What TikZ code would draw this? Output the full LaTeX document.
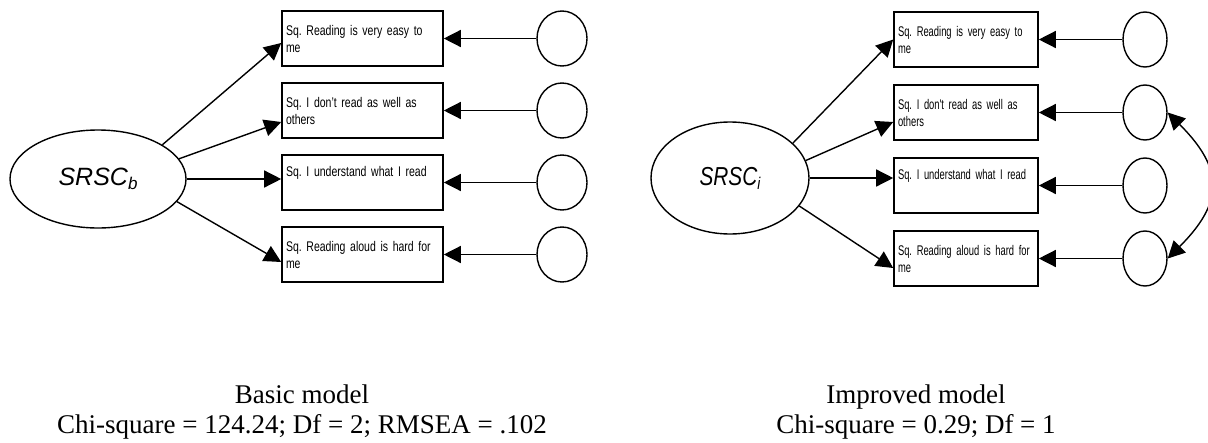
\documentclass[tikz,border=0pt]{standalone}
\usepackage{fontspec}
\setmainfont{Liberation Serif}
\setsansfont{Liberation Sans}
\newfontfamily\widesf[FakeStretch=0.75]{Liberation Sans}
\newfontfamily\narrowsf[FakeStretch=0.67]{Liberation Sans}
\newfontfamily\latentsf[FakeStretch=0.8]{Liberation Sans}
\usetikzlibrary{arrows.meta,shapes.geometric}
\frenchspacing

\begin{document}
\begin{tikzpicture}[x=1pt,y=-1pt,>={Triangle[length=17pt,width=17pt]},
  indic/.style={draw,line width=1.6pt,minimum height=55pt,inner xsep=4pt,inner ysep=0pt,align=left},
  latent/.style={draw,ellipse,line width=1.4pt,inner sep=0pt},
  err/.style={draw,ellipse,line width=1.4pt,inner sep=0pt,minimum height=55pt},
  link/.style={line width=1.4pt,->},
  caption/.style={align=center,font=\rmfamily\fontsize{27}{30}\selectfont}]
  \useasboundingbox (0,0) rectangle (1208,442);

  % basic model
  \node[latent,minimum width=176pt,minimum height=98pt] (lsrsc) at (98,179)
    {\sffamily\itshape\fontsize{25}{30}\selectfont SRSC\raisebox{-4pt}{\fontsize{17}{20}\selectfont b}};
  \begin{scope}[every node/.append style={indic,text width=153pt,font=\widesf\fontsize{14}{17}\selectfont}]
    \node (lb1) at (362.5,38.5) {Sq. Reading is very easy to\\me};
    \node (lb2) at (362.5,110.5) {Sq. I don’t read as well as\\others};
    \node (lb3) at (362.5,182.5) {Sq. I understand what I read\\\strut};
    \node (lb4) at (362.5,254.5) {Sq. Reading aloud is hard for\\me};
  \end{scope}
  \node[err,minimum width=50pt] (lc1) at (562,38.5) {};
  \node[err,minimum width=50pt] (lc2) at (562,110.5) {};
  \node[err,minimum width=50pt] (lc3) at (562,182.5) {};
  \node[err,minimum width=50pt] (lc4) at (562,254.5) {};
  \draw[link] (lsrsc.28) -- ([yshift=-4.5pt]lb1.west);
  \draw[link] (lsrsc.14) -- ([yshift=-11.5pt]lb2.west);
  \draw[link] (lsrsc.east) -- (lsrsc.east -| lb3.west);
  \draw[link] (lsrsc.-16) -- ([yshift=-7.5pt]lb4.west);
  \draw[link] (lc1) -- (lb1);
  \draw[link] (lc2) -- (lb2);
  \draw[link] (lc3) -- (lb3);
  \draw[link] (lc4) -- (lb4);
  \node[caption] (lcap) at (302,412) {Basic model\\Chi-square = 124.24; Df = 2; RMSEA = .102};

  % improved model
  \node[latent,minimum width=158pt,minimum height=112pt] (rsrsc) at (730,178)
    {\latentsf\itshape\fontsize{26}{30}\selectfont SRSC\raisebox{-4pt}{\fontsize{17}{20}\selectfont i}};
  \begin{scope}[every node/.append style={indic,text width=136pt,font=\narrowsf\fontsize{14}{17}\selectfont}]
    \node (rb1) at (966,39.5) {Sq. Reading is very easy to\\me};
    \node (rb2) at (966,112.5) {Sq. I don't read as well as\\others};
    \node (rb3) at (966,185.5) {Sq. I understand what I read\\\strut};
    \node (rb4) at (966,258.5) {Sq. Reading aloud is hard for\\me};
  \end{scope}
  \node[err,minimum width=44pt] (rc1) at (1145,39.5) {};
  \node[err,minimum width=44pt] (rc2) at (1145,112.5) {};
  \node[err,minimum width=44pt] (rc3) at (1145,185.5) {};
  \node[err,minimum width=44pt] (rc4) at (1145,258.5) {};
  \draw[link] (rsrsc.29) -- (rb1.west);
  \draw[link] (rsrsc.13) -- ([yshift=-9.5pt]rb2.west);
  \draw[link] (rsrsc.east) -- (rsrsc.east -| rb3.west);
  \draw[link] (rsrsc.-22) -- ([yshift=-9.5pt]rb4.west);
  \draw[link] (rc1) -- (rb1);
  \draw[link] (rc2) -- (rb2);
  \draw[link] (rc3) -- (rb3);
  \draw[link] (rc4) -- (rb4);
  \draw[line width=1.4pt,<->] (rc2.east) to[bend left=45,looseness=1.4] (rc4.east);
  \node[caption] (rcap) at (916,412) {Improved model\\Chi-square = 0.29; Df = 1};
\end{tikzpicture}
\end{document}
